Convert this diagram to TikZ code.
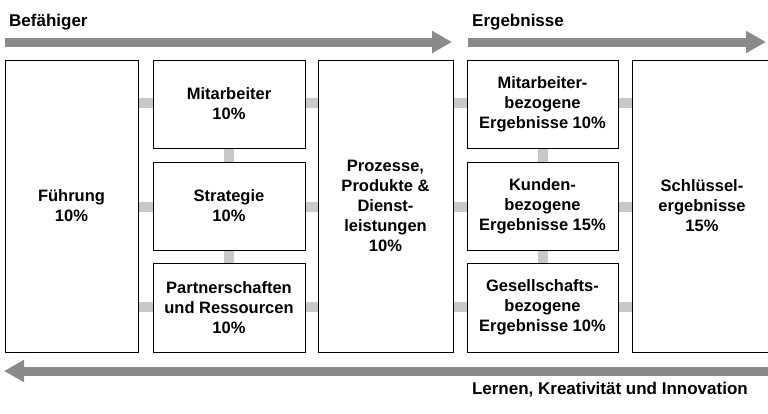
\documentclass[tikz,border=0pt]{standalone}
\usepackage{fontspec}
\setmainfont{Liberation Sans}
\usetikzlibrary{arrows.meta}
\definecolor{bargray}{HTML}{8A8A8A}
\definecolor{congray}{HTML}{C8C8C8}
\begin{document}
\begin{tikzpicture}[x=1pt,y=-1pt,
  box/.style={draw=black,line width=0.8pt,fill=white,font=\bfseries\fontsize{16.5}{20}\selectfont,align=center,inner sep=0pt},
  con/.style={congray,line width=10pt},
  big/.style={bargray,line width=9pt,-{Triangle[width=21pt,length=20pt]}},
  lab/.style={font=\bfseries\fontsize{17}{19}\selectfont,inner sep=0pt}]
\useasboundingbox (0,0) rectangle (768,413);
\draw[con] (138,103) -- (318,103);
\draw[con] (138,207) -- (318,207);
\draw[con] (138,307) -- (318,307);
\draw[con] (453,103) -- (632,103);
\draw[con] (453,207) -- (632,207);
\draw[con] (453,307) -- (632,307);
\draw[con] (229,148) -- (229,263);
\draw[con] (543,148) -- (543,263);
\node[box,minimum width=133pt,minimum height=292pt] (fu) at (71.5,206) {Führung\\10\%};
\node[box,minimum width=152pt,minimum height=88pt] (mi) at (229,104) {Mitarbeiter\\10\%};
\node[box,minimum width=152pt,minimum height=88pt] (st) at (229,206) {Strategie\\10\%};
\node[box,minimum width=152pt,minimum height=89pt] (pa) at (229,307.5) {Partnerschaften\\und Ressourcen\\10\%};
\node[box,minimum width=135pt,minimum height=292pt] (pr) at (385.5,206) {Prozesse,\\Produkte \&\\Dienst-\\leistungen\\10\%};
\node[box,minimum width=151pt,minimum height=88pt] (me) at (542.5,104) {Mitarbeiter-\\bezogene\\Ergebnisse 10\%};
\node[box,minimum width=151pt,minimum height=88pt] (ke) at (542.5,206) {Kunden-\\bezogene\\Ergebnisse 15\%};
\node[box,minimum width=151pt,minimum height=89pt] (ge) at (542.5,307.5) {Gesellschafts-\\bezogene\\Ergebnisse 10\%};
\node[box,minimum width=140pt,minimum height=292pt] (sc) at (702,206) {Schlüssel-\\ergebnisse\\15\%};
\coordinate (a1) at (5,42); \coordinate (a2) at (452,42);
\coordinate (b1) at (468,42); \coordinate (b2) at (766,42);
\coordinate (c1) at (768,371); \coordinate (c2) at (4,371);
\draw[big] (a1) -- (a2);
\draw[big] (b1) -- (b2);
\draw[big] (c1) -- (c2);
\node[lab,anchor=west] (t1) at (9,22) {Befähiger};
\node[lab,anchor=west] (t2) at (472,22) {Ergebnisse};
\node[lab,anchor=east] (t3) at (748,390) {Lernen, Kreativität und Innovation};
\end{tikzpicture}
\end{document}
